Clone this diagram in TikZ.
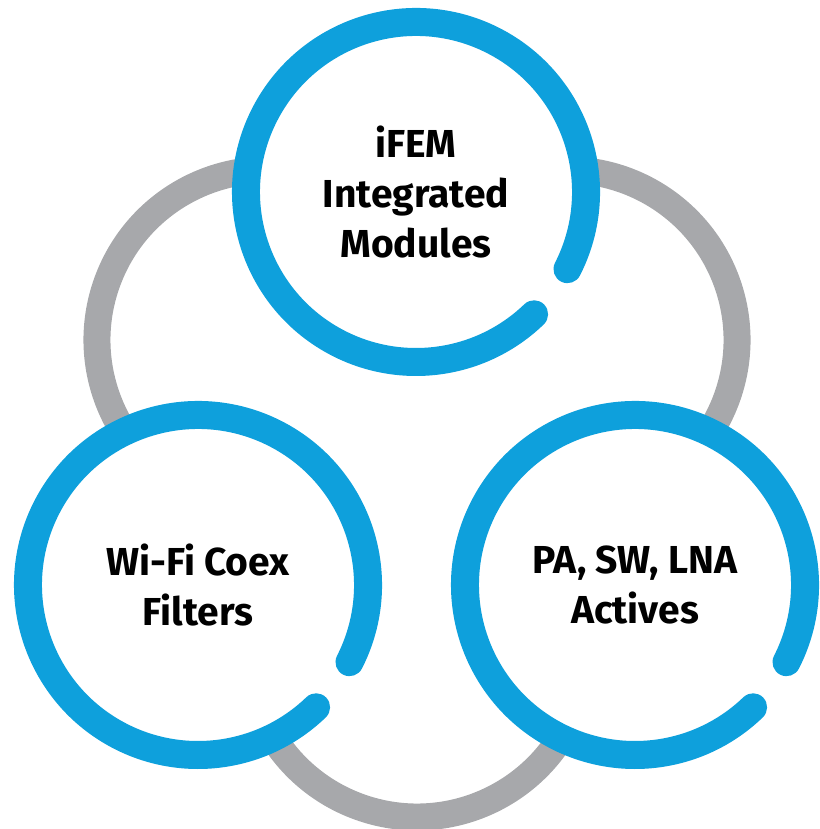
\documentclass[tikz,border=0pt]{standalone}
\usepackage{fontspec}
\setmainfont{Fira Sans}
\definecolor{ringblue}{RGB}{14,160,220}
\definecolor{ringgray}{RGB}{167,168,171}
\begin{document}
\begin{tikzpicture}[x=1pt,y=1pt,
  grayarc/.style={draw=ringgray, line width=27pt},
  bluering/.style={draw=ringblue, line width=28pt, line cap=round},
  disc/.style={fill=white},
  ringlabel/.style={font=\bfseries\fontsize{39}{50}\selectfont, align=center, text=black, inner sep=0pt}]
\useasboundingbox (0,0) rectangle (819,829);
% centres of the blue rings
\coordinate (ctop) at (416,637);
\coordinate (cleft) at (198,244);
\coordinate (cright) at (635,244);
% centres of the gray connecting arcs
\coordinate (gleft) at (267,489);
\coordinate (gright) at (567,489);
\coordinate (gbottom) at (417,182);
% gray arcs
\draw[grayarc] (gleft) ++(70:170) arc[start angle=70, end angle=250, radius=170];
\draw[grayarc] (gright) ++(-70:170) arc[start angle=-70, end angle=110, radius=170];
\draw[grayarc] (gbottom) ++(160:170) arc[start angle=160, end angle=380, radius=170];
% white discs and blue rings
\foreach \c in {ctop,cleft,cright}{
  \fill[disc] (\c) circle[radius=170];
  \draw[bluering] (\c) ++(-27:170) arc[start angle=-27, end angle=314, radius=170];
}
% labels
\node[ringlabel] (ifem) at (ctop) {iFEM\\Integrated\\Modules};
\node[ringlabel] (wifi) at (cleft) {Wi-Fi Coex\\Filters};
\node[ringlabel] (pasw) at (cright) {PA, SW, LNA\\Actives};
\end{tikzpicture}
\end{document}
